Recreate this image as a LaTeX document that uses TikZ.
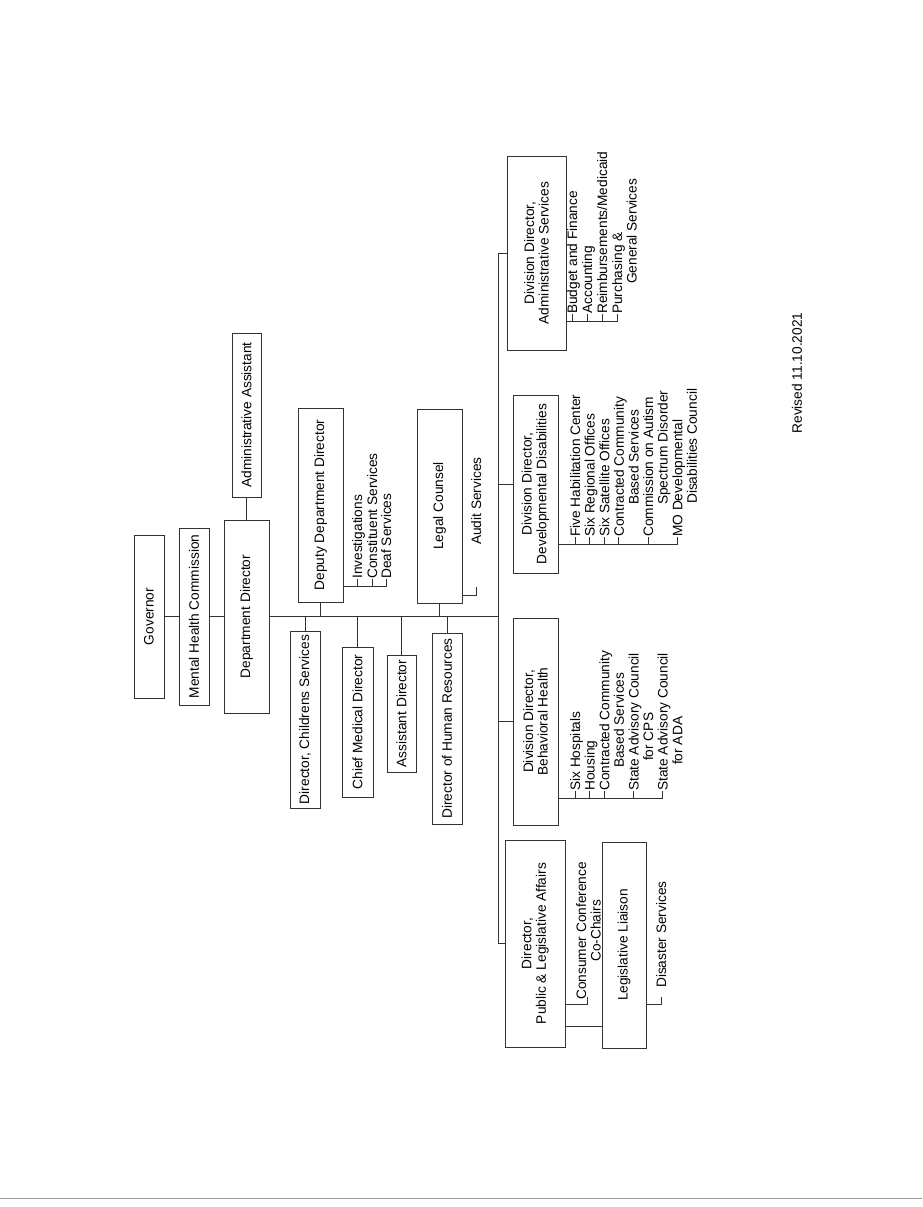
\documentclass[tikz,border=0pt]{standalone}
\usepackage{fontspec}
\setmainfont{Liberation Sans}
\newcommand{\orgfont}{\fontsize{13.7}{14.6}\selectfont}
\tikzset{
    unit/.style={
        draw=black!80,
        line width=0.9pt,
        rotate=90,
        align=center,
        inner sep=2pt},
    item/.style={
        rotate=90,
        anchor=north west,
        inner sep=0pt,
        align=left},
    link/.style={
        draw=black!80,
        line width=0.9pt}}

\begin{document}
\begin{tikzpicture}[x=1pt,y=-1pt,every node/.style={font=\orgfont,text=black}]
        \fill[white] (0,0) rectangle (922,1207);
        \useasboundingbox (0,0) rectangle (922,1207);

        \node[unit,minimum width=163pt,minimum height=30pt] (gov) at (149,616.5) {Governor};
        \node[unit,minimum width=177pt,minimum height=30pt] (mhc) at (194,616.5) {Mental Health Commission};
        \node[unit,minimum width=193pt,minimum height=45pt] (dd) at (246.5,616.5) {Department Director};
        \node[unit,minimum width=164pt,minimum height=29pt] (aa) at (246.5,415) {Administrative Assistant};
        \node[unit,minimum width=194pt,minimum height=45pt] (dpd) at (320.5,505) {Deputy Department Director};
        \node[unit,minimum width=194pt,minimum height=45pt] (lc) at (439.5,506) {Legal Counsel};
        \node[unit,minimum width=177pt,minimum height=30pt] (cs) at (305,719.5) {Director, Childrens Services};
        \node[unit,minimum width=150pt,minimum height=31pt] (cmd) at (357.5,722) {Chief Medical Director};
        \node[unit,minimum width=117pt,minimum height=29pt] (ad) at (401.5,713.5) {Assistant Director};
        \node[unit,minimum width=191pt,minimum height=30pt] (hr) at (447,728.5) {Director of Human Resources};
        \node[unit,minimum width=194pt,minimum height=59pt] (as) at (536.5,253) {Division Director,\\Administrative Services};
        \node[unit,minimum width=178pt,minimum height=45pt] (ddd) at (535.5,484) {Division Director,\\Developmental Disabilities};
        \node[unit,minimum width=207pt,minimum height=45pt] (bh) at (535.5,721.5) {Division Director,\\Behavioral Health};
        \node[unit,minimum width=207pt,minimum height=60pt] (pla) at (535,943.5) {Director,\\Public \& Legislative Affairs};
        \node[unit,minimum width=206pt,minimum height=44pt] (ll) at (624,945) {Legislative Liaison};
        \coordinate (trunk) at (498,943.5);

        \draw[link] (gov.south) -- (mhc.north);
        \draw[link] (mhc.south) -- (dd.north);
        \draw[link] (dd.east) -- (aa.west);
        \draw[link] (dd.south) -- (dd.south -| trunk);
        \draw[link] (as.north) -| (trunk) -- (pla.north);
        \draw[link] (ddd.north) -- (ddd.north -| trunk);
        \draw[link] (bh.north) -- (bh.north -| trunk);
        \foreach \n in {dpd,lc} \draw[link] (\n.west) -- (\n.west |- dd.south);
        \foreach \n in {cs,cmd,ad,hr} \draw[link] (\n.east) -- (\n.east |- dd.south);
        \draw[link] (pla.south |- 0,1026) -- (ll.north |- 0,1026);

        % deputy
        \node[item] (inv) at (352,579) {Investigations};
        \node[item] (con) at (367,579) {Constituent Services};
        \node[item] (deaf) at (381,579) {Deaf Services};
        \draw[link] (dpd.south |- 0,586) -| ([xshift=5pt]deaf.north west);
        \foreach \n in {inv,con} \draw[link] ([xshift=5pt]\n.north west) -- ++(0,7);

        % administrative services
        \node[item] (bud) at (567,314) {Budget and Finance};
        \node[item] (acc) at (582,314) {Accounting};
        \node[item] (reim) at (597,314) {Reimbursements/Medicaid};
        \node[item] (pur) at (612,314) {Purchasing \&\\\hspace*{30pt}General Services};
        \draw[link] (as.south |- 0,321) -| ([xshift=5pt]pur.north west);
        \foreach \n in {bud,acc,reim} \draw[link] ([xshift=5pt]\n.north west) -- ++(0,7);

        % developmental disabilities
        \node[item] (hab) at (570,537) {Five Habilitation Center};
        \node[item] (reg) at (584.6,537) {Six Regional Offices};
        \node[item] (sat) at (599.2,537) {Six Satellite Offices};
        \node[item] (ccb) at (613.8,537) {Contracted Community\\\hspace*{32pt}Based Services};
        \node[item] (aut) at (643,537) {Commission on Autism\\\hspace*{32pt}Spectrum Disorder};
        \node[item] (mod) at (672.2,537) {MO Developmental\\\hspace*{33pt}Disabilities Council};
        \draw[link] (ddd.south |- 0,544) -| ([xshift=5pt]mod.north west);
        \foreach \n in {hab,reg,sat,ccb,aut} \draw[link] ([xshift=5pt]\n.north west) -- ++(0,7);

        % behavioral health
        \node[item] (hos) at (570,791) {Six Hospitals};
        \node[item] (hou) at (584.6,791) {Housing};
        \node[item] (cbs) at (599.2,791) {Contracted Community\\\hspace*{23pt}Based Services};
        \node[item] (cps) at (628.4,791) {State Advisory Council\\\hspace*{30pt}for CPS};
        \node[item] (ada) at (657.6,791) {State Advisory Council\\\hspace*{26pt}for ADA};
        \draw[link] (bh.south |- 0,798) -| ([xshift=5pt]ada.north west);
        \foreach \n in {hos,hou,cbs,cps} \draw[link] ([xshift=5pt]\n.north west) -- ++(0,7);

        \node[item] (aud) at (471,545) {Audit Services};
        \draw[link] (lc.south |- 0,595) -| (476,587);
        \node[item,align=center] (ccc) at (576,1000) {Consumer Conference\\Co-Chairs};
        \draw[link] (pla.south |- 0,1004) -| (587,997);
        \node[item] (dis) at (656,988) {Disaster Services};
        \draw[link] (ll.south |- 0,1004) -| (661,997);

        \node[rotate=90] (rev) at (797,373) {Revised 11.10.2021};
        \draw[black!40,line width=1pt] (0,1198) -- (922,1198);
    \end{tikzpicture}
\end{document}
